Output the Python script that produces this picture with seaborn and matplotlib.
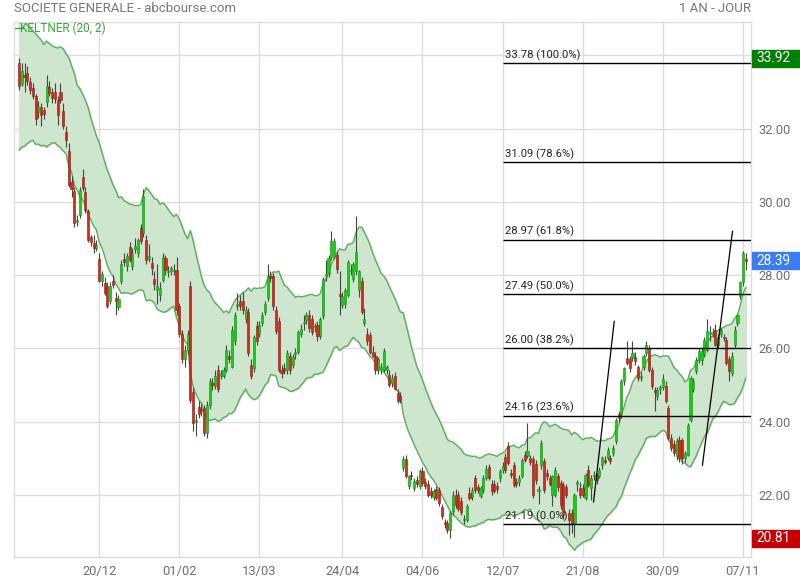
import numpy as np
import pandas as pd
import matplotlib
matplotlib.use("Agg")
import matplotlib.pyplot as plt
import matplotlib.transforms as mtransforms
from matplotlib.patches import Rectangle
import seaborn as sns

# daily bars (one row of 12 per line)
opens = [
    33.80, 33.23, 33.45, 33.53, 33.26, 33.10, 32.88, 32.45, 32.58, 32.50, 32.72, 33.13,
    33.00, 33.00, 32.78, 33.00, 32.47, 31.90, 31.40, 30.53, 30.29, 29.45, 29.64, 30.69,
    30.26, 29.74, 29.05, 28.87, 28.75, 28.44, 27.84, 27.78, 27.70, 27.30, 27.84, 27.37,
    27.13, 27.84, 28.44, 28.24, 28.76, 28.24, 28.70, 28.60, 29.28, 29.15, 28.95, 28.45,
    28.33, 27.90, 27.60, 27.45, 27.86, 28.46, 28.08, 28.12, 28.10, 28.14, 27.15, 26.40,
    25.70, 25.95, 27.70, 24.80, 24.00, 24.40, 24.35, 24.37, 23.70, 24.45, 25.05, 24.97,
    25.40, 25.25, 25.25, 25.40, 25.80, 25.50, 26.20, 27.15, 27.30, 27.30, 26.80, 27.00,
    25.55, 25.45, 26.60, 26.40, 26.70, 27.00, 27.37, 27.98, 27.97, 27.05, 26.75, 25.40,
    25.45, 25.40, 25.80, 25.55, 25.85, 25.90, 26.40, 26.68, 26.77, 26.90, 26.80, 26.58,
    26.64, 26.33, 26.87, 27.98, 28.05, 28.50, 28.50, 28.55, 27.45, 27.18, 27.20, 27.45,
    28.10, 27.90, 28.10, 27.60, 27.84, 26.70, 26.40, 26.35, 25.90, 25.80, 25.40, 25.40,
    25.40, 25.40, 25.27, 25.05, 25.25, 24.78, 24.70, 22.74, 22.98, 22.24, 22.55, 22.19,
    22.40, 22.24, 22.65, 22.35, 22.30, 22.10, 21.95, 22.15, 22.14, 21.67, 21.26, 21.24,
    21.05, 21.56, 22.00, 22.00, 21.84, 21.30, 21.32, 22.05, 21.95, 22.46, 22.20, 21.97,
    22.14, 22.46, 22.76, 22.30, 22.30, 22.25, 22.46, 22.68, 23.04, 23.34, 22.60, 22.82,
    22.32, 22.35, 22.52, 23.10, 23.05, 23.00, 22.98, 22.85, 22.10, 22.80, 22.93, 22.60,
    22.45, 22.00, 22.00, 22.50, 22.33, 22.27, 22.20, 21.50, 21.50, 21.24, 22.30, 22.19,
    22.19, 21.92, 22.68, 22.19, 22.50, 22.50, 22.52, 22.80, 22.95, 23.00, 23.00, 23.14,
    23.47, 24.20, 24.20, 25.10, 25.74, 25.70, 25.74, 25.75, 25.50, 25.20, 25.50, 25.87,
    26.00, 25.40, 24.85, 24.70, 24.90, 24.95, 24.97, 24.37, 23.55, 23.40, 23.06, 23.50,
    23.50, 23.00, 23.10, 24.05, 24.90, 25.38, 25.68, 25.68, 25.82, 25.95, 26.40, 26.40,
    26.50, 26.10, 26.40, 26.30, 26.23, 25.70, 25.33, 26.10, 26.70, 27.43, 27.80, 28.42,
]
highs = [
    33.92, 33.80, 33.80, 33.70, 33.40, 33.25, 32.95, 32.75, 32.70, 32.60, 33.45, 33.30,
    33.10, 33.25, 32.90, 33.25, 32.70, 32.06, 31.60, 30.70, 30.40, 29.65, 30.40, 30.90,
    30.40, 29.80, 29.10, 29.10, 28.95, 28.60, 28.10, 27.95, 27.80, 27.80, 28.00, 27.55,
    27.45, 28.40, 28.60, 28.60, 28.90, 28.75, 29.00, 29.00, 29.40, 30.35, 29.10, 28.85,
    28.50, 28.10, 28.30, 27.80, 28.60, 28.55, 28.25, 28.25, 28.30, 28.50, 27.25, 26.50,
    26.10, 26.50, 27.85, 24.95, 24.20, 24.55, 24.50, 24.45, 24.55, 25.20, 25.20, 25.40,
    25.55, 25.40, 25.50, 26.10, 25.95, 26.60, 27.00, 27.50, 27.45, 27.55, 27.15, 27.10,
    25.70, 26.35, 26.75, 26.75, 27.00, 27.30, 28.30, 28.10, 28.05, 27.15, 26.85, 25.55,
    25.60, 25.95, 25.90, 25.85, 26.00, 26.50, 26.65, 26.90, 27.00, 27.05, 26.90, 26.70,
    26.75, 26.85, 27.95, 28.40, 28.55, 29.20, 29.00, 28.65, 28.10, 27.55, 27.65, 28.40,
    28.30, 28.35, 29.60, 28.15, 27.95, 27.10, 26.55, 26.45, 26.05, 25.90, 25.75, 25.60,
    26.00, 25.55, 25.40, 25.30, 25.35, 24.90, 24.80, 23.05, 23.10, 22.55, 22.65, 22.45,
    22.50, 22.70, 22.75, 22.45, 22.40, 22.20, 22.15, 22.25, 22.20, 21.75, 21.35, 21.30,
    21.55, 22.10, 22.15, 22.10, 21.95, 21.45, 21.75, 22.20, 22.20, 22.55, 22.30, 22.25,
    22.55, 22.80, 22.85, 22.40, 22.40, 22.35, 22.70, 22.90, 23.15, 23.45, 22.70, 22.90,
    22.45, 22.55, 23.00, 23.20, 23.95, 23.10, 23.05, 22.95, 22.25, 23.50, 23.00, 22.70,
    22.55, 22.55, 22.75, 22.60, 22.40, 22.35, 22.30, 21.60, 21.60, 22.05, 22.40, 22.35,
    22.30, 22.60, 22.80, 22.55, 22.65, 22.60, 22.75, 23.05, 23.05, 23.30, 23.10, 23.35,
    24.10, 24.30, 25.15, 25.50, 26.20, 25.80, 26.20, 25.90, 25.55, 25.35, 25.85, 26.20,
    26.10, 25.50, 24.95, 24.95, 25.00, 25.30, 25.10, 24.45, 23.65, 23.50, 23.55, 23.60,
    23.55, 23.20, 23.95, 25.25, 25.20, 25.75, 26.00, 26.00, 26.30, 26.80, 26.60, 26.55,
    26.65, 26.40, 26.55, 26.40, 26.30, 25.80, 25.90, 26.60, 26.95, 27.85, 28.65, 28.60,
]
lows = [
    33.05, 33.15, 33.00, 33.20, 32.95, 32.80, 32.10, 32.30, 32.06, 32.25, 32.60, 32.90,
    32.70, 32.70, 32.10, 32.70, 32.00, 31.50, 30.40, 30.12, 29.30, 29.35, 29.55, 30.30,
    29.70, 28.90, 28.80, 28.60, 28.65, 27.80, 27.70, 27.45, 27.10, 27.20, 27.65, 26.90,
    27.05, 27.75, 28.25, 28.10, 28.35, 28.15, 28.60, 28.50, 28.85, 29.05, 28.30, 28.35,
    28.00, 27.60, 27.20, 27.30, 27.80, 28.00, 27.95, 28.00, 28.00, 26.90, 26.30, 25.60,
    25.50, 25.85, 24.50, 23.75, 23.60, 24.10, 24.15, 23.60, 23.55, 24.35, 24.85, 24.90,
    24.80, 25.15, 25.20, 25.35, 25.60, 25.45, 26.10, 27.05, 27.05, 26.95, 26.70, 25.80,
    25.15, 25.35, 26.10, 26.30, 26.60, 26.90, 27.30, 27.80, 27.05, 26.40, 25.35, 25.20,
    25.30, 25.30, 25.30, 25.45, 25.70, 25.85, 26.30, 26.50, 26.65, 26.45, 26.35, 26.45,
    26.20, 26.25, 26.80, 27.85, 27.95, 28.40, 28.45, 28.05, 26.90, 27.10, 27.10, 27.40,
    28.00, 27.80, 28.00, 27.40, 26.95, 26.60, 26.10, 25.85, 25.75, 25.30, 25.30, 25.30,
    25.35, 25.30, 24.95, 24.95, 24.85, 24.50, 24.50, 22.65, 22.45, 22.15, 22.40, 22.10,
    22.20, 22.15, 22.25, 22.15, 21.95, 21.90, 21.85, 21.85, 21.70, 21.35, 21.10, 20.95,
    20.81, 21.45, 21.65, 21.55, 21.45, 21.20, 21.25, 21.85, 21.85, 22.05, 22.05, 21.90,
    22.05, 22.40, 22.40, 22.00, 22.05, 22.05, 22.35, 22.60, 22.60, 22.80, 22.45, 22.20,
    22.20, 22.25, 22.45, 22.90, 23.00, 22.80, 21.90, 22.30, 21.75, 22.70, 22.05, 22.40,
    22.25, 21.70, 21.95, 22.10, 21.60, 21.35, 21.90, 20.90, 20.95, 20.85, 22.10, 21.90,
    21.95, 21.85, 22.20, 21.85, 22.40, 22.30, 22.45, 22.70, 22.85, 22.95, 22.85, 23.05,
    23.40, 24.00, 24.10, 25.00, 25.55, 25.35, 25.65, 25.55, 25.10, 25.10, 25.40, 25.80,
    25.35, 24.90, 24.30, 24.60, 24.75, 24.85, 24.50, 23.50, 23.20, 23.05, 22.95, 22.90,
    22.85, 22.90, 23.05, 24.00, 24.80, 25.30, 25.60, 25.55, 25.75, 25.90, 26.20, 26.30,
    26.05, 26.00, 26.30, 26.20, 25.55, 25.10, 25.25, 26.00, 26.60, 27.35, 27.70, 28.15,
]
closes = [
    33.15, 33.56, 33.40, 33.29, 33.04, 32.90, 32.25, 32.60, 32.36, 32.40, 33.15, 32.96,
    32.83, 32.80, 32.36, 32.78, 32.06, 31.68, 30.45, 30.34, 29.42, 29.50, 30.32, 30.37,
    29.77, 28.95, 28.90, 28.74, 28.82, 27.84, 28.03, 27.50, 27.15, 27.70, 27.73, 27.30,
    27.35, 28.30, 28.35, 28.52, 28.40, 28.60, 28.80, 28.95, 28.93, 30.15, 28.40, 28.52,
    28.19, 27.75, 27.70, 27.65, 28.50, 28.14, 28.12, 28.18, 28.15, 27.05, 26.40, 25.70,
    25.95, 26.40, 24.60, 23.97, 24.02, 24.20, 24.30, 23.70, 24.45, 25.10, 25.00, 25.25,
    24.90, 25.30, 25.40, 25.95, 25.70, 26.50, 26.90, 27.20, 27.15, 27.05, 27.05, 25.87,
    25.25, 26.30, 26.20, 26.64, 26.90, 27.20, 27.97, 27.93, 27.15, 26.47, 25.40, 25.33,
    25.38, 25.87, 25.40, 25.75, 25.90, 26.45, 26.53, 26.72, 26.90, 26.55, 26.45, 26.62,
    26.33, 26.80, 27.90, 28.02, 28.46, 28.93, 28.93, 28.16, 27.43, 27.43, 27.60, 28.35,
    28.15, 28.30, 28.63, 28.10, 27.00, 26.80, 26.20, 25.90, 25.80, 25.40, 25.70, 25.50,
    25.93, 25.50, 25.00, 25.20, 24.90, 24.56, 24.60, 22.98, 22.50, 22.50, 22.50, 22.38,
    22.30, 22.65, 22.33, 22.25, 22.00, 22.00, 22.10, 21.90, 21.78, 21.43, 21.20, 21.05,
    21.50, 22.00, 21.73, 21.60, 21.54, 21.35, 21.70, 21.92, 22.14, 22.14, 22.14, 22.19,
    22.46, 22.70, 22.46, 22.10, 22.10, 22.15, 22.65, 22.79, 22.68, 22.87, 22.55, 22.27,
    22.30, 22.45, 22.95, 22.95, 23.20, 22.90, 22.00, 22.40, 22.15, 23.42, 22.14, 22.50,
    22.30, 22.50, 22.68, 22.20, 21.73, 21.46, 22.00, 21.32, 21.20, 22.00, 22.33, 22.00,
    22.00, 22.54, 22.27, 22.46, 22.55, 22.40, 22.68, 23.00, 22.90, 23.23, 22.93, 23.28,
    24.05, 24.10, 25.10, 25.46, 25.60, 25.46, 25.87, 25.65, 25.20, 25.25, 25.80, 26.10,
    25.40, 24.97, 24.80, 24.85, 24.92, 25.15, 24.56, 23.55, 23.28, 23.14, 23.47, 23.00,
    23.00, 23.14, 23.90, 25.20, 25.10, 25.68, 25.93, 25.93, 26.23, 26.47, 26.42, 26.42,
    26.10, 26.30, 26.50, 26.28, 25.60, 25.38, 25.80, 26.50, 26.90, 27.80, 28.60, 28.39,
]

tick_pos = [29, 58, 87, 117, 146, 175, 204, 233, 262]
tick_labels = ["20/12", "01/02", "13/03", "24/04", "04/06", "12/07", "21/08", "30/09", "07/11"]

fib_levels = [33.78, 31.09, 28.97, 27.49, 26.00, 24.16, 21.19]
fib_pcts = ["100.0%", "78.6%", "61.8%", "50.0%", "38.2%", "23.6%", "0.0%"]
fib_start = 175.3

trend_x = [[207.9, 215.4], [247.3, 258.2]]
trend_y = [[21.80, 26.74], [22.80, 29.20]]

period_high = 33.92
period_low = 20.81
last_close = 28.39

sns.set_theme(style="white")
plt.rcParams["font.family"] = ["Roboto", "DejaVu Sans"]

df = pd.DataFrame({"open": opens, "high": highs, "low": lows, "close": closes})
df["idx"] = np.arange(len(df))

# keltner (20, 2): ema of close +/- 2 * atr
prev_close = df["close"].shift(1).fillna(df["close"])
true_range = pd.concat([df["high"] - df["low"],
                        (df["high"] - prev_close).abs(),
                        (df["low"] - prev_close).abs()], axis=1).max(axis=1)
mid = df["close"].ewm(span=20, adjust=False).mean()
atr = true_range.ewm(span=20, adjust=False).mean()
df["upper"] = mid + 2 * atr
df["lower"] = mid - 2 * atr

fig = plt.figure(figsize=(8, 5.8), dpi=100)
ax = fig.add_axes([0.0179, 0.0402, 0.9209, 0.9219])

ax.fill_between(df["idx"], df["lower"], df["upper"], color="#cde6cd", zorder=1)
sns.lineplot(data=df, x="idx", y="upper", color="#5cae5c", lw=1, ax=ax, zorder=2)
sns.lineplot(data=df, x="idx", y="lower", color="#5cae5c", lw=1, ax=ax, zorder=2)

up = df["close"] >= df["open"]
ax.vlines(df["idx"], df["low"], df["high"], color="#454545", lw=0.8, zorder=3)
body_low = df[["open", "close"]].min(axis=1)
body_h = (df["close"] - df["open"]).abs().clip(lower=0.04)
ax.bar(df["idx"][up], body_h[up], bottom=body_low[up], width=0.76,
       color="#14d014", edgecolor="#0f8f0f", lw=0.4, zorder=4)
ax.bar(df["idx"][~up], body_h[~up], bottom=body_low[~up], width=0.76,
       color="#d42a1a", edgecolor="#8c1a10", lw=0.4, zorder=4)

# fibonacci retracement
for lvl, pct in zip(fib_levels, fib_pcts):
    ax.hlines(lvl, fib_start, 265, color="black", lw=1, zorder=5)
    ax.text(fib_start + 0.5, lvl + 0.06, f"{lvl:.2f} ({pct})", fontsize=8.1,
            color="#222222", va="bottom", ha="left", zorder=5)

for tx, ty in zip(trend_x, trend_y):
    ax.plot(tx, ty, color="black", lw=0.9, zorder=5)

ax.set_xlim(-1.7, 264.9)
ax.set_ylim(20.31, 34.91)
ax.set_xticks(tick_pos)
ax.set_xticklabels(tick_labels)
ax.set_yticks(np.arange(22, 35, 2))
ax.set_yticklabels([f"{v:.2f}" for v in np.arange(22, 35, 2)])
ax.yaxis.tick_right()
ax.tick_params(axis="both", length=0, labelsize=9.3, colors="#6e6e6e")
ax.tick_params(axis="y", pad=5)
ax.tick_params(axis="x", pad=6)
ax.grid(True, color="#dddddd", lw=1)
ax.set_axisbelow(True)
ax.set_xlabel("")
ax.set_ylabel("")
for s in ax.spines.values():
    s.set_color("#dddddd")
    s.set_linewidth(1)

# price tags on the right
trans = mtransforms.blended_transform_factory(ax.transAxes, ax.transData)
half = 8.5 / 36.63
for val, col in [(period_high, "#008000"), (last_close, "#3b7cf4"), (period_low, "#c40000")]:
    ax.add_patch(Rectangle((1.0014, val - half), 0.066, 2 * half, transform=trans,
                           color=col, clip_on=False, zorder=10))
    ax.text(1.0068, val, f"{val:.2f}", transform=trans, color="white", fontsize=9.8,
            va="center", ha="left", zorder=11, clip_on=False)

# legend tag
ax.plot([0.001, 0.012], [0.988, 0.988], transform=ax.transAxes, color="#3aa63a", lw=1,
        clip_on=False, zorder=6)
ax.text(0.0075, 0.988, "KELTNER (20, 2)", transform=ax.transAxes, color="#3aa63a",
        fontsize=8.5, va="center", ha="left", zorder=6)

fig.text(14 / 800, 1 - 9 / 580, "SOCIETE GENERALE - abcbourse.com", fontsize=9.5,
         color="#777777", va="center", ha="left")
fig.text(751 / 800, 1 - 9 / 580, "1 AN - JOUR", fontsize=9.5, color="#777777",
         va="center", ha="right")

fig.savefig("out.png", dpi=100)
